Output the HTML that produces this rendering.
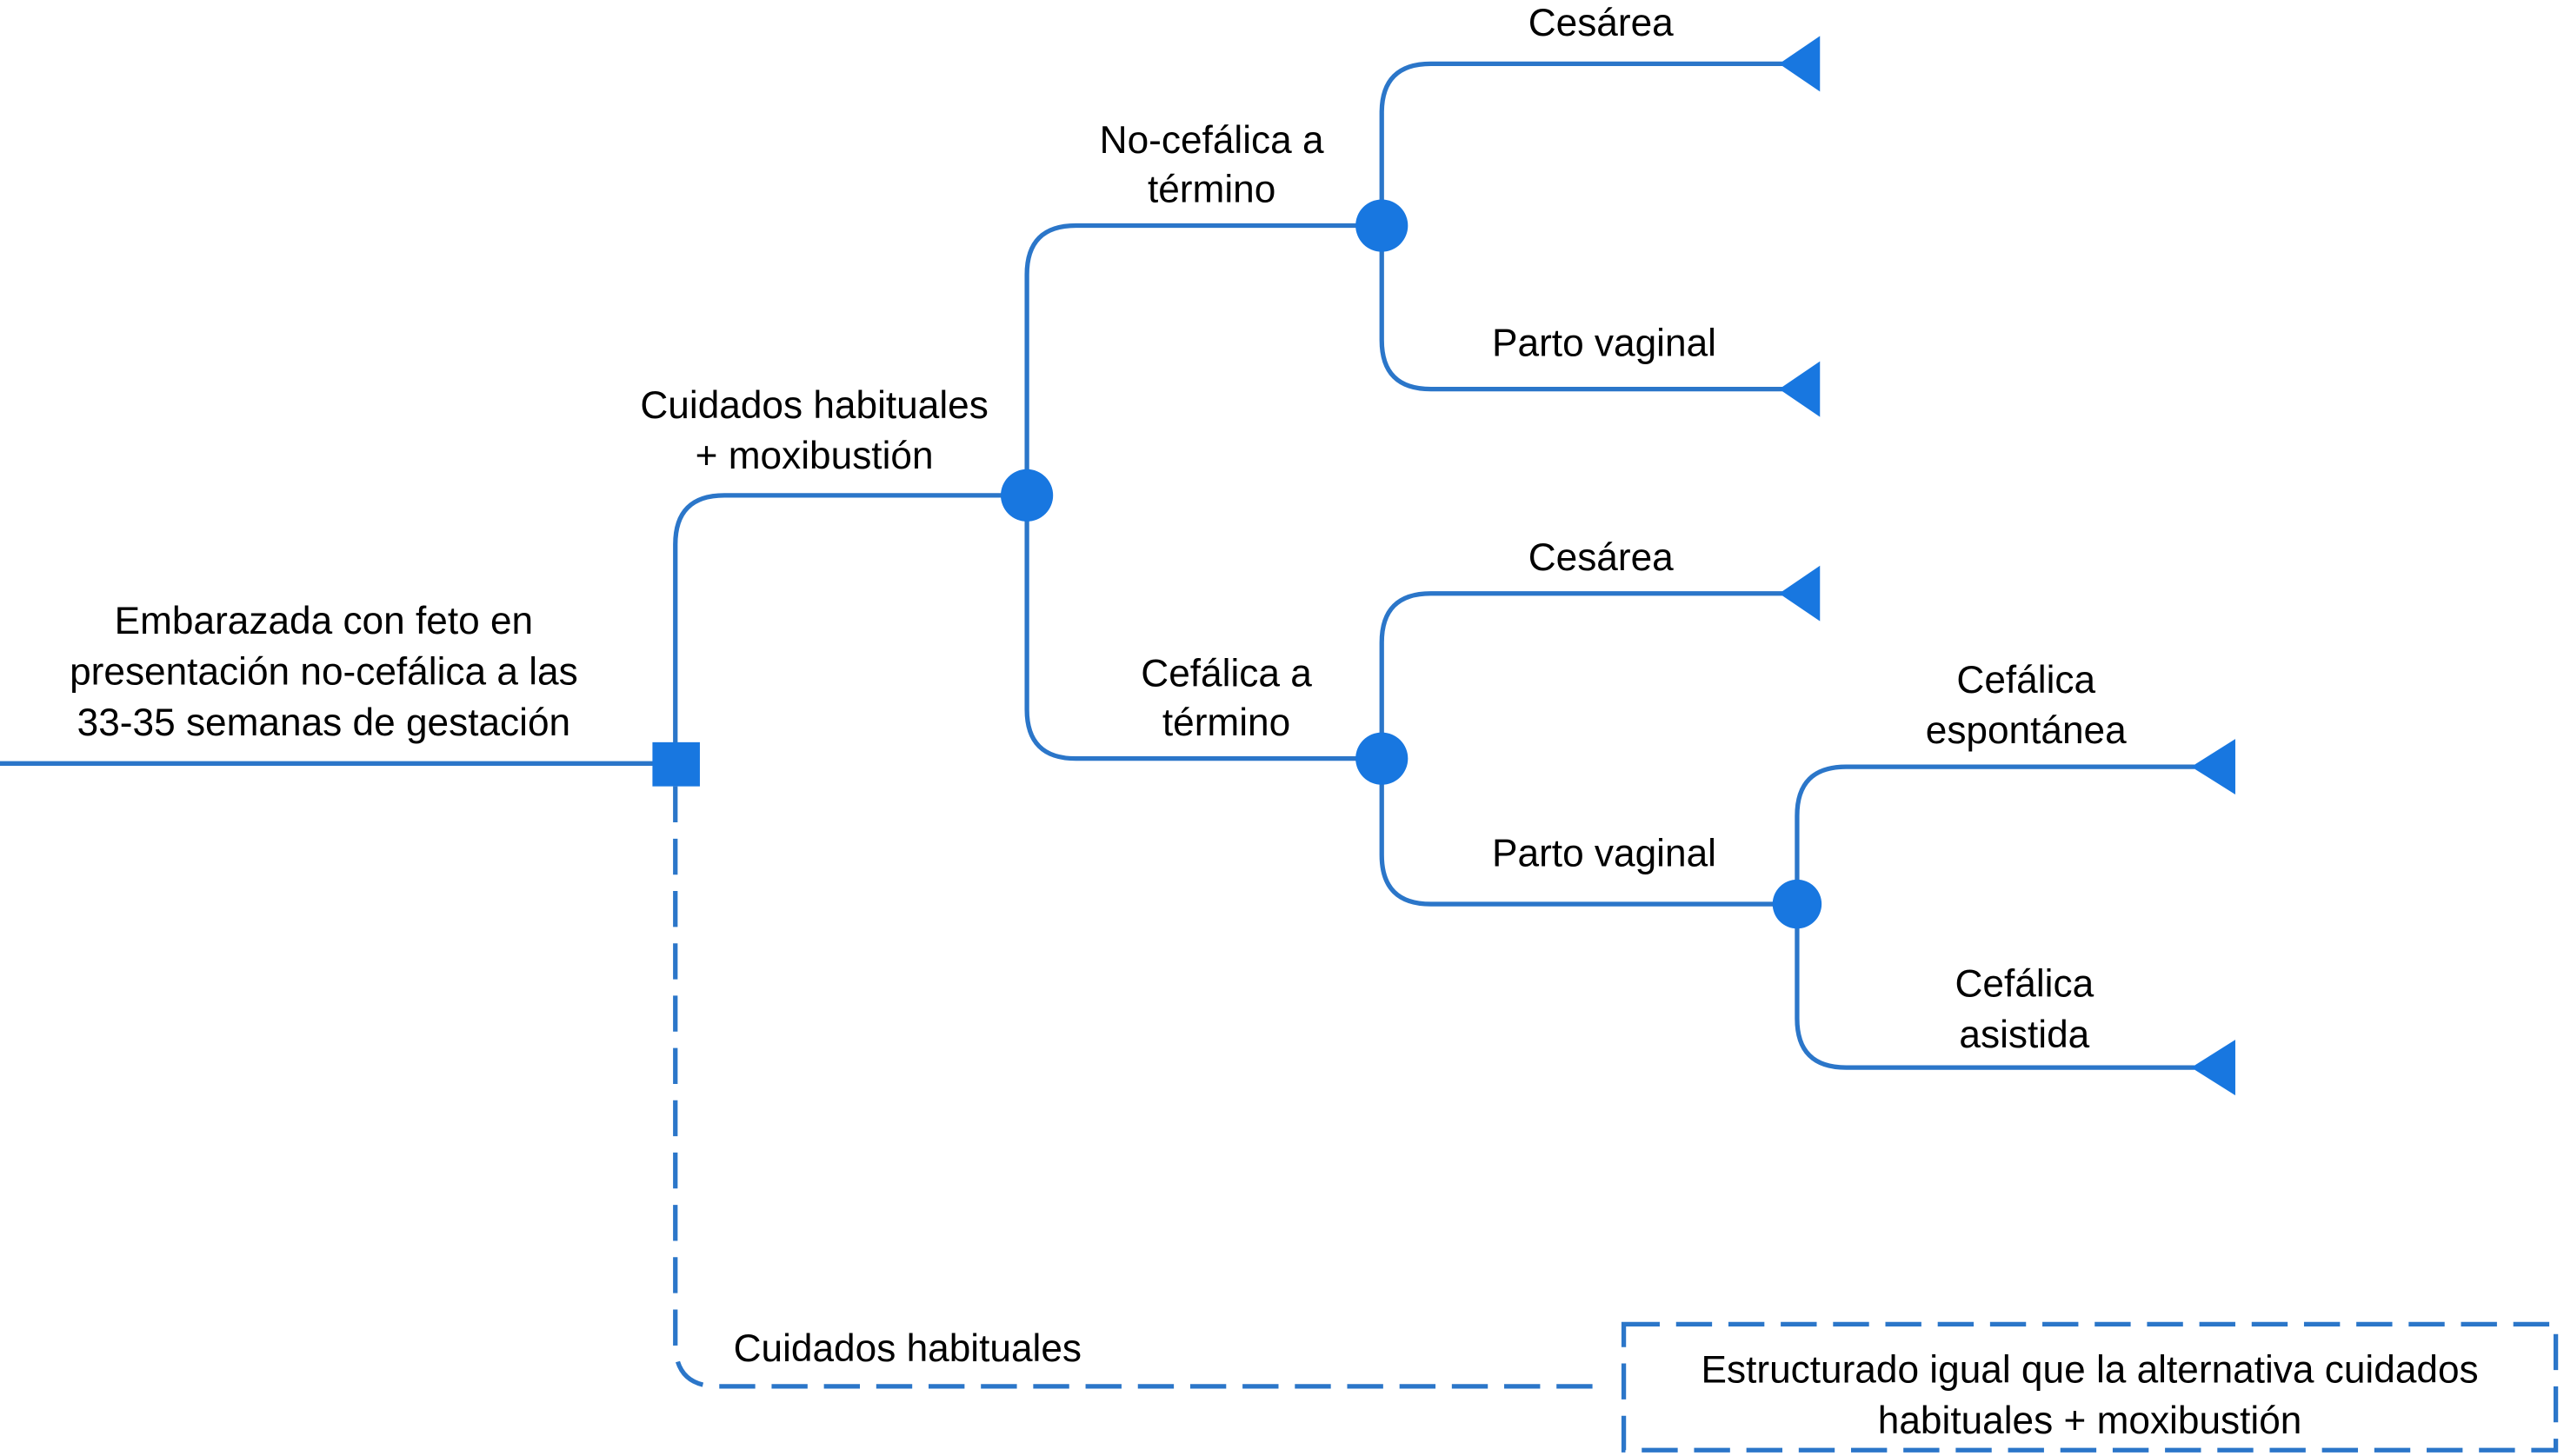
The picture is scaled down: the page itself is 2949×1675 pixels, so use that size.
<!DOCTYPE html>
<html><head><meta charset="utf-8"><style>
html,body{margin:0;padding:0;background:#fff;}
svg{display:block;}
text{font-family:"Liberation Sans",Arial,sans-serif;font-size:23.5px;fill:#000;text-anchor:middle;dominant-baseline:central;}
</style></head><body>
<svg width="2949" height="1675" viewBox="0 0 1568 890.6" preserveAspectRatio="none" xmlns="http://www.w3.org/2000/svg">
<g fill="none" stroke="#2b76c9" stroke-width="2.8">
<path d="M0 467 H400"/>
<path d="M413 467 V333 Q413 303 443 303 H628"/>
<path d="M628 303 V168 Q628 138 658 138 H845"/>
<path d="M628 303 V434 Q628 464 658 464 H845"/>
<path d="M845 138 V69 Q845 39 875 39 H1090"/>
<path d="M845 138 V208 Q845 238 875 238 H1090"/>
<path d="M845 464 V393 Q845 363 875 363 H1090"/>
<path d="M845 464 V523 Q845 553 875 553 H1099"/>
<path d="M1099 553 V499 Q1099 469 1129 469 H1342"/>
<path d="M1099 553 V623 Q1099 653 1129 653 H1342"/>
<path d="M413 481 V822 Q413 848 439 848 H975 Q979 848 979 842" stroke-dasharray="22 10"/>
<rect x="993" y="810" width="570" height="77" stroke-dasharray="22 10"/>
</g>
<g fill="#1877e0">
<rect x="399" y="454" width="29" height="27"/>
<circle cx="628" cy="303" r="16"/>
<circle cx="845" cy="138" r="16"/>
<circle cx="845" cy="464" r="16"/>
<circle cx="1099" cy="553" r="15"/>
<polygon points="1088,39 1113,22 1113,56"/>
<polygon points="1088,238 1113,221 1113,255"/>
<polygon points="1088,363 1113,346 1113,380"/>
<polygon points="1340,469 1367,452 1367,486"/>
<polygon points="1340,653 1367,636 1367,670"/>
</g>
<text x="198" y="380">Embarazada con feto en</text>
<text x="198" y="411">presentación no-cefálica a las</text>
<text x="198" y="442">33-35 semanas de gestación</text>
<text x="498" y="248">Cuidados habituales</text>
<text x="498" y="279">+ moxibustión</text>
<text x="741" y="86">No-cefálica a</text>
<text x="741" y="116">término</text>
<text x="979" y="14">Cesárea</text>
<text x="981" y="210">Parto vaginal</text>
<text x="979" y="341">Cesárea</text>
<text x="750" y="412">Cefálica a</text>
<text x="750" y="442">término</text>
<text x="981" y="522">Parto vaginal</text>
<text x="1239" y="416">Cefálica</text>
<text x="1239" y="447">espontánea</text>
<text x="1238" y="602">Cefálica</text>
<text x="1238" y="633">asistida</text>
<text x="555" y="825">Cuidados habituales</text>
<text x="1278" y="838">Estructurado igual que la alternativa cuidados</text>
<text x="1278" y="869">habituales + moxibustión</text>
</svg>
</body></html>
